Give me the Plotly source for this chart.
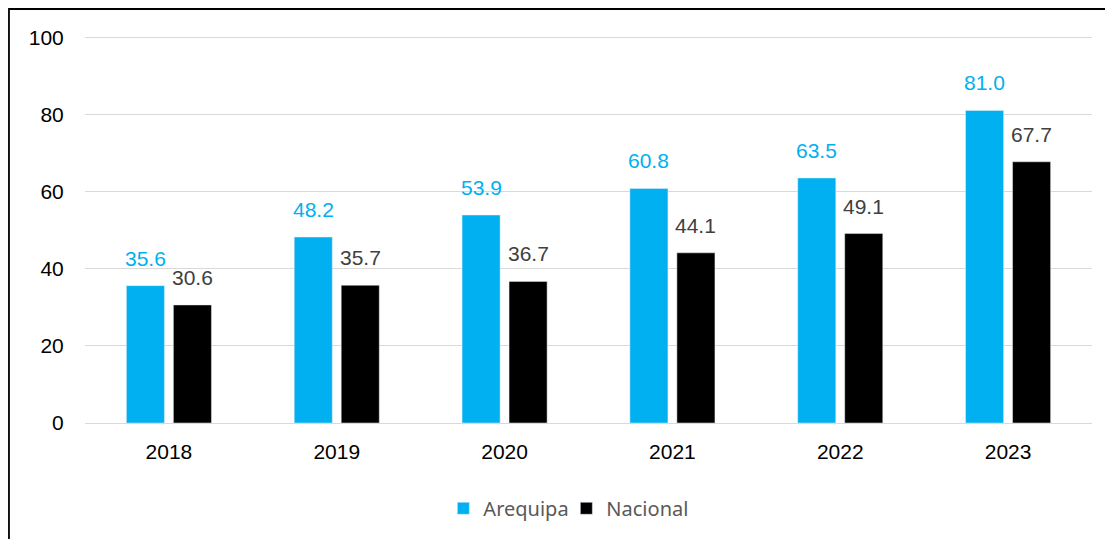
import plotly.graph_objects as go

years = ['2018', '2019', '2020', '2021', '2022', '2023']
arequipa = [35.6, 48.2, 53.9, 60.8, 63.5, 81.0]
nacional = [30.6, 35.7, 36.7, 44.1, 49.1, 67.7]

BLUE = '#00B0F0'
BLACK = '#000000'


def main():
    fig = go.Figure()
    fig.add_trace(go.Bar(x=years, y=arequipa, name='Arequipa', marker_color=BLUE))
    fig.add_trace(go.Bar(x=years, y=nacional, name='Nacional', marker_color=BLACK))

    # value labels floating above the bars (x given as category index)
    for series, shift, color in [(arequipa, -23.5, BLUE), (nacional, 23.5, '#404040')]:
        for i, v in enumerate(series):
            fig.add_annotation(x=i, y=v, text=f'{v:.1f}', showarrow=False,
                               xshift=shift, yanchor='bottom', yshift=14,
                               font=dict(family='Liberation Sans', size=21, color=color))

    # outer frame (only its top and left edges fall inside the crop)
    fig.add_shape(type='rect', xref='paper', yref='paper',
                  x0=-0.0755, x1=1.1, y0=-0.5, y1=1.0698,
                  line=dict(color='#000000', width=1.8))

    # page body adds an 8px offset, so the figure is 8px smaller each way
    fig.update_layout(
        width=1105, height=531,
        margin=dict(l=77, r=21, t=28, b=116, autoexpand=False),
        plot_bgcolor='white', paper_bgcolor='white',
        barmode='group', bargap=0.44, bargroupgap=0.19,
        font=dict(family='Liberation Sans', size=20, color='#000000'),
        legend=dict(orientation='h', x=0.478, xanchor='center', y=-0.17,
                    yanchor='top', itemwidth=30, entrywidth=78,
                    font=dict(family='Noto Sans', size=20, color='#595959')),
    )
    fig.update_yaxes(range=[0, 100.3], dtick=20, gridcolor='#D9D9D9', gridwidth=1.3,
                     zeroline=False, ticks='outside', ticklen=16,
                     tickcolor='rgba(0,0,0,0)', tickfont=dict(size=21))
    fig.update_xaxes(type='category', showline=True, linecolor='#D9D9D9', linewidth=1.3,
                     ticks='outside', ticklen=10, tickcolor='rgba(0,0,0,0)',
                     tickfont=dict(size=21))

    fig.write_html('out.html')


if __name__ == '__main__':
    main()
